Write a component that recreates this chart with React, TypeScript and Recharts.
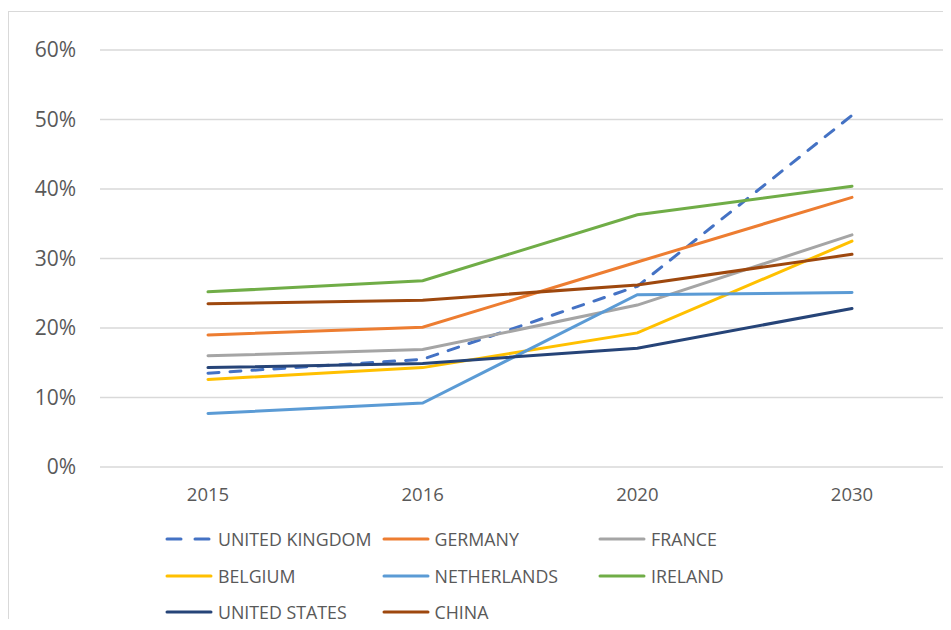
import { CartesianGrid, Line, LineChart, XAxis, YAxis } from "recharts";

const YEARS = ["2015", "2016", "2020", "2030"];

const UNITED_KINGDOM = [13.5, 15.5, 26.0, 50.6];
const GERMANY = [19.0, 20.1, 29.5, 38.8];
const FRANCE = [16.0, 16.9, 23.3, 33.4];
const BELGIUM = [12.6, 14.3, 19.3, 32.5];
const NETHERLANDS = [7.7, 9.2, 24.8, 25.1];
const IRELAND = [25.2, 26.8, 36.3, 40.4];
const UNITED_STATES = [14.3, 14.9, 17.1, 22.8];
const CHINA = [23.5, 24.0, 26.2, 30.6];

const Y_TICKS = [0, 10, 20, 30, 40, 50, 60];

const SERIES = [
  { key: "uk", name: "UNITED KINGDOM", values: UNITED_KINGDOM, color: "#4472C4", dashed: true },
  { key: "de", name: "GERMANY", values: GERMANY, color: "#ED7D31" },
  { key: "fr", name: "FRANCE", values: FRANCE, color: "#A5A5A5" },
  { key: "be", name: "BELGIUM", values: BELGIUM, color: "#FFC000" },
  { key: "nl", name: "NETHERLANDS", values: NETHERLANDS, color: "#5B9BD5" },
  { key: "ie", name: "IRELAND", values: IRELAND, color: "#70AD47" },
  { key: "us", name: "UNITED STATES", values: UNITED_STATES, color: "#264478" },
  { key: "cn", name: "CHINA", values: CHINA, color: "#9E480E" },
];

const rows = YEARS.map((year, i) => {
  const row: Record<string, string | number> = { year };
  SERIES.forEach((s) => {
    row[s.key] = s.values[i];
  });
  return row;
});

const FONT = "'Open Sans', 'DejaVu Sans', sans-serif";
const TEXT = "#595959";
const DASH = "11 11";

export default function App() {
  return (
    <div
      style={{
        position: "relative",
        top: 3,
        width: 942,
        height: 610,
        borderLeft: "1px solid #d9d9d9",
        borderTop: "1px solid #d9d9d9",
        fontFamily: FONT,
      }}
    >
      <LineChart
        width={942}
        height={610}
        data={rows}
        margin={{ top: 38, right: 0, bottom: 125, left: 0 }}
      >
        <CartesianGrid vertical={false} stroke="#d9d9d9" strokeWidth={1.3} />
        <XAxis
          dataKey="year"
          axisLine={false}
          tickLine={false}
          tickMargin={15}
          padding={{ left: 108, right: 99 }}
          tick={{ fontSize: 18.5, fill: TEXT, fontFamily: FONT }}
        />
        <YAxis
          width={91}
          domain={[0, 60]}
          ticks={Y_TICKS}
          axisLine={false}
          tickLine={false}
          tickMargin={18}
          tickFormatter={(v: number) => `${v}%`}
          tick={{ fontSize: 21, fill: TEXT, fontFamily: FONT }}
        />
        {SERIES.map((s) => (
          <Line
            key={s.key}
            type="linear"
            dataKey={s.key}
            name={s.name}
            stroke={s.color}
            strokeWidth={3}
            strokeDasharray={s.dashed ? DASH : undefined}
            strokeLinecap="round"
            dot={false}
            activeDot={false}
            isAnimationActive={false}
          />
        ))}
      </LineChart>

      {SERIES.map((s, i) => {
        const col = i % 3;
        const row = Math.floor(i / 3);
        return (
          <div
            key={s.key}
            style={{
              position: "absolute",
              left: 156 + col * 216.5,
              top: 527 + row * 36.5 - 12,
              height: 24,
              display: "flex",
              alignItems: "center",
              gap: 5,
              fontSize: 17.8,
              color: TEXT,
              whiteSpace: "nowrap",
            }}
          >
            <svg width={48} height={6} aria-hidden>
              <line
                x1={2}
                x2={46}
                y1={3}
                y2={3}
                stroke={s.color}
                strokeWidth={3}
                strokeLinecap="round"
                strokeDasharray={s.dashed ? "14 14" : undefined}
              />
            </svg>
            <span>{s.name}</span>
          </div>
        );
      })}
    </div>
  );
}
